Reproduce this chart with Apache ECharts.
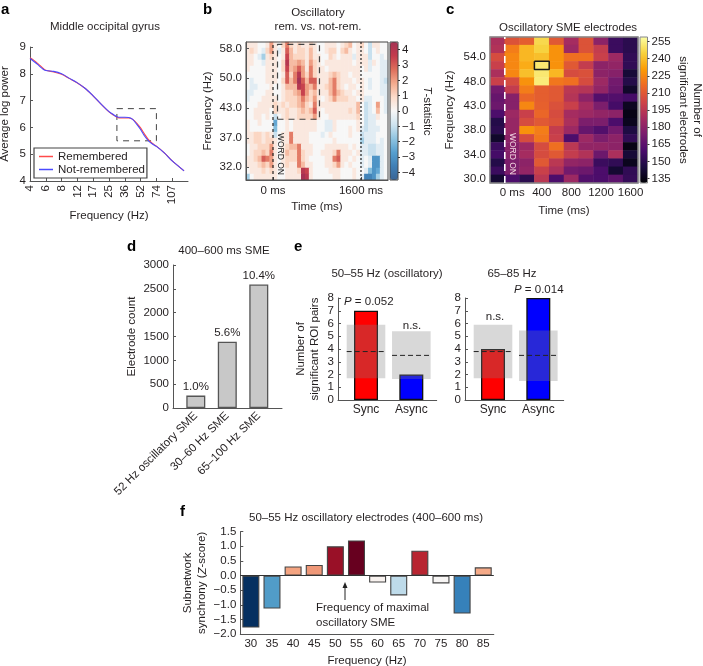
<!DOCTYPE html>
<html><head><meta charset="utf-8">
<style>html,body{margin:0;padding:0;background:#fff}#c{width:703px;height:666px}</style>
<script src="https://cdn.jsdelivr.net/npm/echarts@6/dist/echarts.min.js"></script>
</head><body><div id="c"></div>
<script>
// ---------- panel a ----------
const aTickLabels = ['4','6','8','12','17','25','36','52','74','107'];
const aPos = [0,.25,.5,.75,1,1.5,2,2.5,3,3.5,4,4.5,5,5.25,5.5,5.75,6,6.25,6.5,6.75,7,7.25,7.5,7.75,8,8.5,9,9.5,9.75];
const aRemembered = [8.60,8.50,8.38,8.25,8.13,8.07,7.98,7.82,7.66,7.45,7.17,6.87,6.58,6.47,6.38,6.35,6.35,6.35,6.30,6.16,5.98,5.75,5.54,5.40,5.30,5.05,4.75,4.50,4.38];
const aNotRemembered = [8.57,8.46,8.34,8.21,8.12,8.09,8.00,7.83,7.66,7.45,7.18,6.87,6.59,6.49,6.40,6.38,6.38,6.37,6.30,6.12,5.92,5.68,5.50,5.38,5.29,5.05,4.75,4.50,4.38];
const aBox = {x:[5.5,8], y:[5.5,6.7]};
// ---------- panel b : T statistic x 2, rows top to bottom ----------
const bFreqTicks = [58,50,43,37,32];
const bTimeTicks = [0,1600];
const bBarTicks = [-4,-3,-2,-1,0,1,2,3,4];
const bBox = {ms:[82,845], hz:[40.7,59.3]};
const bRows = [
[1,1,1,0,0,1,4,1,0,2,5,2,1,2,1,1,2,1,0,0,1,1,1,0,1,2,3,0,1,2,0,-2,1,1,0,0],
[1,2,1,0,-1,2,4,1,-1,1,6,3,1,2,2,1,3,1,0,0,1,2,2,0,2,3,1,0,1,1,0,-2,0,1,0,0],
[1,1,0,-1,-3,1,2,1,0,1,7,3,2,2,2,1,3,1,1,0,0,2,1,0,1,1,1,-1,1,1,1,-2,0,0,-1,0],
[1,1,0,0,-1,1,1,1,0,2,8,3,3,4,3,1,4,2,1,0,1,1,1,1,1,1,1,0,1,1,1,-1,1,0,-1,-1],
[1,0,0,0,0,1,1,1,0,2,7,3,4,6,4,1,5,2,1,1,0,1,1,1,1,1,1,1,1,0,1,-1,0,0,-1,-1],
[0,0,0,0,0,1,1,1,0,1,6,2,5,8,4,2,5,2,1,1,1,2,3,2,1,1,0,1,1,0,0,0,0,0,-1,-1],
[0,-1,0,0,0,1,1,1,0,2,6,3,5,9,6,3,6,6,1,1,1,3,5,2,1,1,1,0,1,1,0,-1,0,0,-1,-2],
[0,-1,-1,0,0,0,1,0,0,1,3,3,3,8,7,4,3,5,1,1,2,3,5,2,1,0,1,1,0,1,0,-1,0,0,-1,-1],
[-1,-1,0,0,0,1,1,0,0,1,2,2,3,4,7,4,2,3,1,1,1,3,5,3,2,1,1,0,1,1,0,0,0,0,-1,-1],
[-1,0,0,0,1,1,1,1,0,1,2,2,2,3,5,3,2,4,1,0,1,2,4,2,2,2,1,1,0,1,-1,-1,0,0,0,-1],
[0,0,0,1,1,1,1,2,1,2,1,2,2,3,4,2,1,5,1,1,1,1,1,1,1,1,1,1,3,0,-2,-1,0,4,0,-1],
[0,0,1,1,1,1,0,2,1,1,2,1,1,2,3,2,3,6,1,0,1,1,1,1,1,1,2,1,3,0,-2,-1,0,3,0,-1],
[0,0,1,1,0,1,0,-2,0,1,2,1,1,2,2,2,2,4,1,0,0,1,1,1,1,1,1,1,2,0,-2,-1,-1,1,0,0],
[1,0,0,1,0,0,0,-5,0,0,1,0,1,1,1,1,1,1,0,0,-1,-1,1,0,0,0,0,0,1,0,-2,-1,-1,0,0,0],
[1,0,0,0,0,0,0,-4,0,0,1,0,1,1,1,1,1,1,0,0,-1,-1,1,0,0,0,1,0,1,-1,-2,-1,-1,-1,0,0],
[1,1,2,2,1,2,1,-2,0,1,1,5,1,1,1,1,0,0,0,-1,0,1,0,0,0,0,1,0,0,-2,-1,-1,-1,0,0,0],
[1,1,2,2,1,2,2,1,0,1,1,5,1,1,1,1,0,0,0,0,0,0,1,0,0,0,0,0,0,-3,-1,-1,-1,0,-1,0],
[0,1,1,2,2,2,4,1,0,1,2,3,3,5,1,1,1,0,0,0,1,1,1,1,1,1,0,1,0,-1,-1,-2,-2,-1,-1,0],
[0,1,2,2,3,2,5,1,0,1,3,2,2,5,2,1,1,0,0,1,1,1,2,5,1,1,1,0,1,-1,-1,-2,-2,-1,-1,0],
[1,1,2,3,6,5,4,1,0,1,2,2,2,5,2,1,0,0,0,0,1,1,5,6,1,1,0,1,0,-1,0,-1,-6,-6,-1,0],
[1,1,1,2,3,2,4,1,0,1,2,1,1,5,3,1,1,0,0,0,1,1,2,4,1,0,1,0,0,-1,0,-1,-6,-6,-1,0],
[0,1,1,1,2,1,2,1,0,0,1,1,1,2,8,7,1,0,0,0,0,1,1,1,0,0,0,1,0,0,-1,-4,-6,-5,-1,0],
[-3,0,1,1,1,1,1,1,0,0,1,1,1,1,9,8,1,0,0,0,0,0,1,1,0,0,0,1,0,-1,-7,-7,-6,-3,-1,0]
];
// ---------- panel c : electrode counts, rows top to bottom ----------
const cFreqLabels = ['','','54.0','','','48.0','','','43.0','','','38.0','','','34.0','','','30.0'];
const cTimeLabels = ['','0 ms','','400','','800','','1200','','1600'];
const cBarTicks = [135,150,165,180,195,210,225,240,255];
const cWordOnCol = 1;
const cMaxCell = {col:3,row:3};
const cRows = [
[190,208,212,247,210,188,208,180,155,150],
[192,222,238,245,228,185,208,198,155,150],
[205,225,238,240,228,218,218,200,185,152],
[200,225,235,252,228,210,198,180,182,152],
[190,225,240,252,238,205,207,180,178,143],
[200,205,228,253,220,218,205,185,172,148],
[172,198,222,212,210,195,193,182,170,140],
[168,178,215,212,210,193,180,162,162,158],
[170,178,225,213,207,200,188,175,158,138],
[160,185,200,215,205,188,185,182,180,135],
[148,183,205,210,207,190,175,175,160,137],
[150,183,228,222,198,185,168,162,172,146],
[140,180,205,220,200,160,185,175,180,152],
[155,178,185,205,218,195,182,182,180,135],
[158,178,188,205,210,198,192,170,190,143],
[148,175,180,210,195,182,180,155,152,137],
[155,175,182,200,190,172,170,160,142,152],
[142,160,150,195,160,185,162,160,165,153]
];
// ---------- panel d ----------
const dCategories = ['52 Hz oscillatory SME','30–60 Hz SME','65–100 Hz SME'];
const dCounts = [260,1390,2590];
const dPercent = ['1.0%','5.6%','10.4%'];
// ---------- panel e ----------
const eCategories = ['Sync','Async'];
const eLeftCounts = [7,2];
const eRightCounts = [4,8];
const eLeftLow = [1.7,1.65], eLeftHigh = [5.9,5.4], eLeftMean = [3.8,3.5];
const eRightLow = [1.7,1.5], eRightHigh = [5.9,5.45], eRightMean = [3.8,3.5];
// ---------- panel f ----------
const fFreqs = ['30','35','40','45','50','55','60','65','70','75','80','85'];
const fZ = [-1.78,-1.13,0.31,0.36,1.0,1.2,-0.24,-0.68,0.85,-0.27,-1.3,0.28];

const FONT = '"Liberation Sans", Arial, sans-serif';
const INK = '#231f20', AX = '#555';
const FS = 11.5;
const minus = s => String(s).replace('-', '\u2212');
const axisBase = {
  axisLine:{show:true,onZero:false,lineStyle:{color:AX,width:1}},
  axisTick:{show:true,inside:true,length:3,lineStyle:{color:AX,width:1}},
  axisLabel:{color:INK,fontSize:FS,fontFamily:FONT,margin:4,lineHeight:11,showMinLabel:true,showMaxLabel:true},
  splitLine:{show:false},
  nameLocation:'middle',
  nameTextStyle:{color:INK,fontSize:FS,fontFamily:FONT,lineHeight:14}
};
const ax = o => { const r = Object.assign({},axisBase,o);
  ['axisLine','axisTick','axisLabel','nameTextStyle'].forEach(k=>{ if(o[k]) r[k]=Object.assign({},axisBase[k],o[k]); });
  return r; };
const hidden = o => Object.assign({show:false},o);

const grid = [], xAxis = [], yAxis = [], series = [];
function addGrid(g,x,y){ g.outerBoundsMode='none'; grid.push(g); const i=grid.length-1; x.gridIndex=i; y.gridIndex=i; xAxis.push(x); yAxis.push(y); return i; }

// a
const ga = addGrid({left:30,top:47,width:158,height:134},
  ax({type:'value',min:0,max:10,name:'Frequency (Hz)',nameGap:28,
      axisTick:{customValues:aTickLabels.map((_,i)=>i)},
      axisLabel:{customValues:aTickLabels.map((_,i)=>i),rotate:90,formatter:v=>aTickLabels[v]}}),
  ax({type:'value',min:4,max:9,interval:1,name:'Average log power',nameGap:18}));
series.push({name:'Remembered',type:'line',xAxisIndex:ga,yAxisIndex:ga,symbol:'none',smooth:.3,
  data:aPos.map((p,i)=>[p,aRemembered[i]]),lineStyle:{color:'#ff4a4a',width:1.1},itemStyle:{color:'#ff4a4a'},
  markArea:{silent:true,itemStyle:{color:'rgba(0,0,0,0)',borderColor:'#444',borderWidth:1,borderType:[6,5]},
    data:[[{coord:[aBox.x[0],aBox.y[1]]},{coord:[aBox.x[1],aBox.y[0]]}]]}});
series.push({name:'Not-remembered',type:'line',xAxisIndex:ga,yAxisIndex:ga,symbol:'none',smooth:.3,
  data:aPos.map((p,i)=>[p,aNotRemembered[i]]),lineStyle:{color:'#4a4aff',width:1.1},itemStyle:{color:'#4a4aff'}});

// b heat
const gb = addGrid({left:246,top:42,width:142,height:138,show:true,borderColor:'#444',borderWidth:1,backgroundColor:'rgba(0,0,0,0)'},
  hidden({type:'category',data:bRows[0].map((_,i)=>i)}),
  hidden({type:'category',inverse:true,data:bRows.map((_,i)=>i)}));
const bData = []; bRows.forEach((r,ri)=>r.forEach((v,ci)=>bData.push([ci,ri,v/2])));
const sb = series.length;
series.push({type:'heatmap',xAxisIndex:gb,yAxisIndex:gb,data:bData,z:-1,silent:true,progressive:0});
// b overlay axes
const fp = f => Math.log2(f/30);
const gbo = addGrid({left:246,top:42,width:142,height:138},
  ax({type:'value',min:-491,max:2091,name:'Time (ms)',nameGap:20,
      axisTick:{customValues:bTimeTicks},
      axisLabel:{customValues:bTimeTicks,margin:5,formatter:v=>v+' ms'}}),
  ax({type:'value',min:0,max:1,name:'Frequency (Hz)',nameGap:31,
      axisTick:{customValues:bFreqTicks.map(fp)},
      axisLabel:{customValues:bFreqTicks.map(fp),formatter:v=>(30*Math.pow(2,v)).toFixed(1)}}));
bTimeTicks.forEach((t,i)=>series.push({type:'line',xAxisIndex:gbo,yAxisIndex:gbo,symbol:'none',silent:true,
  data:[[t,0],[t,1]],lineStyle:{color:'#222',width:1.2,type:i?[2,2]:[3,3]}}));
series.push({type:'line',xAxisIndex:gbo,yAxisIndex:gbo,symbol:'none',silent:true,
  data:[[bBox.ms[0],fp(bBox.hz[0])],[bBox.ms[1],fp(bBox.hz[0])],[bBox.ms[1],fp(bBox.hz[1])],[bBox.ms[0],fp(bBox.hz[1])],[bBox.ms[0],fp(bBox.hz[0])]],
  lineStyle:{color:'#444',width:1.2,type:[6,5]}});
// b colour bar axis
addGrid({left:390,top:42,width:8,height:138,show:true,z:6,borderColor:'#444',borderWidth:1,backgroundColor:'rgba(0,0,0,0)'},
  hidden({type:'value',min:0,max:1}),
  ax({type:'value',position:'right',min:-4.5,max:4.5,z:6,name:'{i|T}-statistic',nameRotate:-90,nameGap:22,
      nameTextStyle:{rich:{i:{fontStyle:'italic',fontSize:FS,fontFamily:FONT,color:INK}}},
      axisLine:{show:false},
      axisTick:{customValues:bBarTicks,inside:false,length:2,lineStyle:{color:'#333'}},
      axisLabel:{customValues:bBarTicks,margin:4,formatter:v=>minus(v)}}));

// c heat
const gc = addGrid({left:490,top:37,width:148,height:146,show:true,borderColor:'#888',borderWidth:1.5,backgroundColor:'rgba(0,0,0,0)'},
  ax({type:'category',data:cTimeLabels,name:'Time (ms)',nameGap:21,axisLine:{show:false},axisTick:{show:false},
      axisLabel:{interval:0,margin:4}}),
  ax({type:'category',inverse:true,data:cFreqLabels,axisLine:{show:false},
      axisTick:{show:false},axisLabel:{interval:0,margin:4}}));
const cData=[]; cRows.forEach((r,ri)=>r.forEach((v,ci)=>cData.push([ci,ri,v])));
const sc = series.length;
series.push({type:'heatmap',xAxisIndex:gc,yAxisIndex:gc,data:cData,z:-1,silent:true,progressive:0});
const gco = addGrid({left:490,top:37,width:148,height:146},
  hidden({type:'value',min:0,max:cRows[0].length}),
  hidden({type:'value',min:0,max:cRows.length}));
series.push({type:'line',xAxisIndex:gco,yAxisIndex:gco,symbol:'none',silent:true,
  data:[[cWordOnCol,0],[cWordOnCol,cRows.length]],lineStyle:{color:'#fff',width:1.6,type:[7,5]}});
const R=cRows.length;
series.push({type:'line',xAxisIndex:gco,yAxisIndex:gco,symbol:'none',silent:true,
  data:[[cMaxCell.col,R-cMaxCell.row],[cMaxCell.col+1,R-cMaxCell.row],[cMaxCell.col+1,R-cMaxCell.row-1],[cMaxCell.col,R-cMaxCell.row-1],[cMaxCell.col,R-cMaxCell.row]],
  lineStyle:{color:'#1a1a1a',width:1.5}});
// c colour bar axis
addGrid({left:640,top:37,width:7.5,height:146,show:true,z:6,borderColor:'#888',borderWidth:1,backgroundColor:'rgba(0,0,0,0)'},
  hidden({type:'value',min:0,max:1}),
  ax({type:'value',position:'right',min:131,max:259,z:6,name:'Number of\nsignificant electrodes',nameRotate:-90,nameGap:29,
      axisLine:{show:false},
      axisTick:{customValues:cBarTicks,inside:false,length:2,lineStyle:{color:'#333'}},
      axisLabel:{customValues:cBarTicks,margin:4}}));

// d
const gd = addGrid({left:173,top:265,width:109,height:143},
  ax({type:'value',min:-0.724,max:2.737,axisTick:{show:false},
      axisLabel:{customValues:[0,1,2],rotate:45,margin:6,formatter:v=>dCategories[v]}}),
  ax({type:'value',min:0,max:3000,interval:500,name:'Electrode count',nameGap:34,axisLabel:{formatter:v=>String(v)}}));
series.push({type:'bar',xAxisIndex:gd,yAxisIndex:gd,barWidth:19,silent:true,
  data:dCounts.map((v,i)=>[i,v]),
  itemStyle:{color:'#c8c8c8',borderColor:'#555',borderWidth:1.3},
  label:{show:true,position:'top',distance:3,color:INK,fontSize:FS,fontFamily:FONT,formatter:p=>dPercent[p.dataIndex]}});

// e
function nullBands(gi,low,high,mean){
  series.push({type:'custom',xAxisIndex:gi,yAxisIndex:gi,silent:true,z:5,
    data:low.map((l,i)=>[i,l,high[i],mean[i]]),
    encode:{x:0,y:[1,2,3]},
    renderItem(params,api){
      const x=api.value(0), hw=.426;
      const a=api.coord([x-hw,api.value(2)]), b=api.coord([x+hw,api.value(1)]);
      const m0=api.coord([x-hw,api.value(3)]), m1=api.coord([x+hw,api.value(3)]);
      return {type:'group',children:[
        {type:'rect',shape:{x:a[0],y:a[1],width:b[0]-a[0],height:b[1]-a[1]},style:{fill:'rgba(129,129,129,0.31)'}},
        {type:'line',shape:{x1:m0[0],y1:m0[1],x2:m1[0],y2:m1[1]},style:{stroke:'#222',lineWidth:1,lineDash:[5,3]}}
      ]};
    }});
}
function ePanel(left,counts,low,high,mean,yName){
  const y = ax({type:'value',min:0,max:8,interval:1,axisLabel:{fontSize:11.5,margin:4,lineHeight:9,textMargin:0,minMargin:0}});
  if(yName){ y.name=yName; y.nameGap=16; }
  const g = addGrid({left,top:298,width:98.7,height:102},
    ax({type:'value',min:-0.618,max:1.56,axisTick:{show:false},
      axisLabel:{customValues:[0,1],margin:4,fontSize:12,formatter:v=>eCategories[v]}}), y);
  series.push({type:'bar',xAxisIndex:g,yAxisIndex:g,barWidth:24,silent:true,
    data:counts.map((v,i)=>({value:[i,v],itemStyle:{color:i?'#0000ff':'#ff0000'}})),
    itemStyle:{borderColor:'#111',borderWidth:1.3}});
  nullBands(g,low,high,mean);
}
ePanel(338,eLeftCounts,eLeftLow,eLeftHigh,eLeftMean,'Number of\nsignificant ROI pairs');
ePanel(465,eRightCounts,eRightLow,eRightHigh,eRightMean,null);

// f
const gf = addGrid({left:240.3,top:531.7,width:253.5,height:102.3},
  ax({type:'category',data:fFreqs,name:'Frequency (Hz)',nameGap:20,axisTick:{show:false},axisLabel:{margin:4,interval:0}}),
  ax({type:'value',min:-2,max:1.5,interval:.5,name:'Subnetwork\nsynchrony ({i|Z}-score)',nameGap:31,
      nameTextStyle:{rich:{i:{fontStyle:'italic',fontSize:FS,fontFamily:FONT,color:INK}}},
      axisLabel:{formatter:v=>minus(v.toFixed(1))}}));
const sf = series.length;
series.push({type:'bar',xAxisIndex:gf,yAxisIndex:gf,barWidth:17,silent:true,data:fZ,
  itemStyle:{borderColor:'#444',borderWidth:1.1},
  markLine:{silent:true,symbol:'none',label:{show:false},lineStyle:{color:'#333',width:1.2,type:'solid'},data:[{yAxis:0}]}});

const titleOf = (text,left,top) => ({text,left,top,textAlign:'center',padding:0,
  textStyle:{color:INK,fontSize:FS,fontWeight:'normal',fontFamily:FONT,lineHeight:14}});
const letter = (t,x,y)=>({type:'text',left:x,top:y,style:{text:t,font:'bold 15px '+FONT,fill:'#000'}});
const note = (t,x,y,align,extra)=>({type:'text',x,y,style:Object.assign({text:t,align:align||'center',verticalAlign:'middle',
   fontSize:FS,fontFamily:FONT,fill:INK,lineHeight:14.5,
   rich:{i:{fontStyle:'italic',fontSize:FS,fontFamily:FONT,fill:INK}}},extra||{}),z:20});

const option = {
  animation:false,
  backgroundColor:'#fff',
  title:[
    titleOf('Middle occipital gyrus',105,20),
    titleOf('Oscillatory\nrem. vs. not-rem.',318,6),
    titleOf('Oscillatory SME electrodes',568,21),
    titleOf('400–600 ms SME',224,244),
    titleOf('50–55 Hz (oscillatory)',387,267),
    titleOf('65–85 Hz',512,267),
    titleOf('50–55 Hz oscillatory electrodes (400–600 ms)',366,511)
  ],
  legend:{data:['Remembered','Not-remembered'],orient:'vertical',left:34,top:148,
    padding:[2,2,2,5],icon:'rect',itemWidth:14,itemHeight:1.5,itemGap:0,borderColor:'#444',borderWidth:1.2,
    textStyle:{color:INK,fontSize:FS,fontFamily:FONT,lineHeight:13}},
  visualMap:[
    {type:'continuous',seriesIndex:sb,min:-4.5,max:4.5,left:390,top:42,itemWidth:8,itemHeight:138,dimension:2,
     calculable:false,text:null,showLabel:false,padding:0,z:5,
     inRange:{color:['#3a6596','#3f7fb5','#569fcf','#90c4e0','#cfe4f0','#f7f7f7','#fcdccb','#f3ab8e','#de6f5c','#c43c4c','#a53254']}},
    {type:'continuous',seriesIndex:sc,min:131,max:259,left:640,top:37,itemWidth:7.5,itemHeight:146,dimension:2,
     calculable:false,text:null,showLabel:false,padding:0,z:5,
     inRange:{color:['#000004','#1b0c41','#4a0c6b','#781c6d','#a52c60','#cf4446','#ed6925','#fb9b06','#f7d13d','#fcffa4']}},
    {type:'continuous',show:false,seriesIndex:sf,min:-1.78,max:1.2,
     inRange:{color:['#053061','#2166ac','#4393c3','#92c5de','#d1e5f0','#f7f7f7','#fddbc7','#f4a582','#d6604d','#b2182b','#67001f']}}
  ],
  grid,xAxis,yAxis,series,
  graphic:[
    letter('a',1,2),letter('b',203,2),letter('c',446,2),letter('d',127,239),letter('e',294,239),letter('f',180,504),
    note('WORD ON',280,154,'center',{fontSize:8.5,fill:'#222'}),
    note('WORD ON',512,154,'center',{fontSize:8.5,fill:'#f2d5e0'}),
    note('Frequency (Hz)',450,110,'center'),
    note('{i|P} = 0.052',344,302,'left'),
    note('n.s.',412,326),
    note('n.s.',495,317),
    note('{i|P} = 0.014',514,290,'left'),
    note('Frequency of maximal\noscillatory SME',316,615.5,'left'),
    {type:'line',shape:{x1:345,y1:600,x2:345,y2:586},style:{stroke:'#222',lineWidth:1},z:20},
    {type:'polygon',shape:{points:[[345,582],[342.5,588],[347.5,588]]},style:{fill:'#222'},z:20}
  ]
};
// rotate the annotation labels that run vertically
option.graphic.forEach(g=>{ if(g.style && g.style.text==='WORD ON') g.rotation=-Math.PI/2;
  if(g.style && g.style.text==='Frequency (Hz)') g.rotation=Math.PI/2; });
const chart = echarts.init(document.getElementById('c'),null,{renderer:'canvas'});
chart.setOption(option);
</script></body></html>
